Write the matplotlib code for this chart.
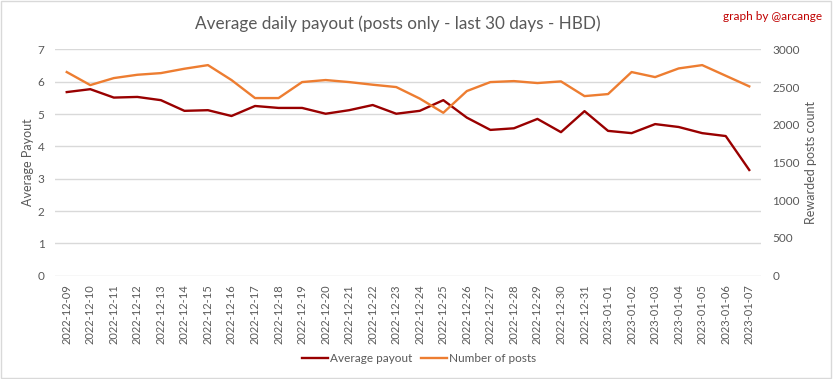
import matplotlib
matplotlib.use("Agg")
import matplotlib.pyplot as plt
from matplotlib.patches import Rectangle

dates = ["2022-12-09", "2022-12-10", "2022-12-11", "2022-12-12", "2022-12-13", "2022-12-14",
         "2022-12-15", "2022-12-16", "2022-12-17", "2022-12-18", "2022-12-19", "2022-12-20",
         "2022-12-21", "2022-12-22", "2022-12-23", "2022-12-24", "2022-12-25", "2022-12-26",
         "2022-12-27", "2022-12-28", "2022-12-29", "2022-12-30", "2022-12-31", "2023-01-01",
         "2023-01-02", "2023-01-03", "2023-01-04", "2023-01-05", "2023-01-06", "2023-01-07"]
avg_payout = [5.68, 5.77, 5.51, 5.53, 5.43, 5.10, 5.12, 4.94, 5.25, 5.19, 5.19, 5.01,
              5.12, 5.28, 5.01, 5.10, 5.43, 4.89, 4.51, 4.56, 4.85, 4.44, 5.09, 4.48,
              4.41, 4.69, 4.60, 4.41, 4.32, 3.27]
num_posts = [2700, 2527, 2620, 2664, 2686, 2744, 2792, 2594, 2355, 2355, 2567, 2594,
             2567, 2532, 2501, 2348, 2160, 2448, 2567, 2580, 2554, 2576, 2381, 2408,
             2700, 2633, 2748, 2792, 2651, 2510]
left_ticks = [0, 1, 2, 3, 4, 5, 6, 7]
right_ticks = [0, 500, 1000, 1500, 2000, 2500, 3000]

FONT = "Lato"
TXT = "#595959"
DARK = "#990000"
ORANGE = "#ED7D31"
GRID = "#D9D9D9"

fig = plt.figure(figsize=(8.33, 3.79), dpi=100)
ax1 = fig.add_axes([0.066, 0.2726, 0.8476, 0.597])
ax2 = ax1.twinx()

x = list(range(len(dates)))
l1, = ax1.plot(x, avg_payout, color=DARK, lw=1.7, label="Average payout", zorder=3)
l2, = ax2.plot(x, num_posts, color=ORANGE, lw=1.7, label="Number of posts", zorder=2)

ax1.set_xlim(-0.5, len(dates) - 0.5)
ax1.set_ylim(0, 7)
ax2.set_ylim(0, 3000)
ax1.set_yticks(left_ticks)
ax2.set_yticks(right_ticks)
ax1.set_xticks(x)
ax1.set_xticklabels(dates, rotation=90, fontsize=8, color=TXT, family=FONT)
for lab in ax1.get_yticklabels():
    lab.set_fontsize(8.5); lab.set_color(TXT); lab.set_family(FONT)
for lab in ax2.get_yticklabels():
    lab.set_fontsize(8.5); lab.set_color(TXT); lab.set_family(FONT)
ax1.tick_params(axis="both", length=0)
ax1.tick_params(axis="y", pad=7.5)
ax1.tick_params(axis="x", pad=6)
ax2.tick_params(axis="y", length=0, pad=8)

ax1.yaxis.grid(True, color=GRID, lw=1)
ax1.set_axisbelow(True)
for ax in (ax1, ax2):
    for s in ax.spines.values():
        s.set_visible(False)

ax1.set_ylabel("Average Payout", fontsize=9, color=TXT, family=FONT)
ax1.yaxis.set_label_coords(-0.030, 0.5)
ax2.set_ylabel("Rewarded posts count", fontsize=9, color=TXT, family=FONT)
ax2.yaxis.set_label_coords(1.062, 0.5)

fig.text(0.477, 0.937, "Average daily payout (posts only - last 30 days - HBD)",
         ha="center", va="center", fontsize=12.3, color=TXT, family=FONT)
fig.text(0.987, 0.957, "graph by @arcange", ha="right", va="center",
         fontsize=8.5, color="#C00000", family=FONT)

fig.legend(handles=[l1, l2], loc="center", bbox_to_anchor=(0.503, 0.055), ncol=2,
           frameon=False, prop={"family": FONT, "size": 8.5}, labelcolor=TXT,
           handlelength=2.2, handletextpad=0.15, columnspacing=0.8)

fig.patches.append(Rectangle((0.001, 0.002), 0.997, 0.995, transform=fig.transFigure,
                             fill=False, edgecolor="#D9D9D9", lw=1))

fig.savefig("out.png", dpi=100, facecolor="white")
